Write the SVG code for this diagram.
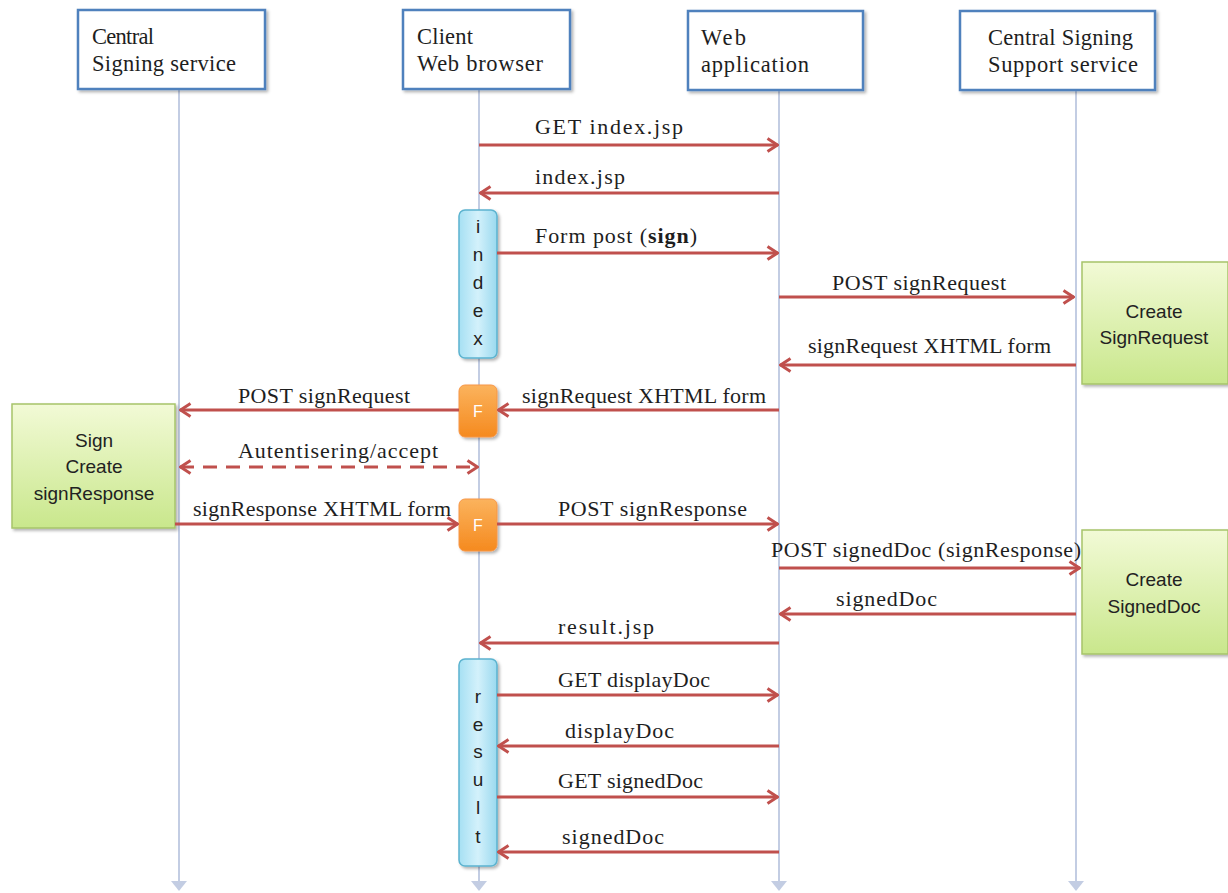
<svg xmlns="http://www.w3.org/2000/svg" width="1228" height="893" viewBox="0 0 1228 893">
<defs>
<style>
.hdr{fill:#fff;stroke:#4f81bd;stroke-width:2.5}
.ht{font-family:"Liberation Serif",serif;font-size:22.5px;fill:#1e1e1e}
.life{stroke:#c3cde3;stroke-width:2;fill:none}
.msg{stroke:#c0504d;stroke-width:3;fill:none}
.dash{stroke-dasharray:14 9}
.lt{font-family:"Liberation Serif",serif;font-size:22px;fill:#1e1e1e}
.st{font-family:"Liberation Sans",sans-serif;font-size:19px;fill:#222;text-anchor:middle}
.act{fill:url(#blue);stroke:#5bb3cf;stroke-width:1.5}
.f{fill:url(#orange);stroke:#f79646;stroke-width:1}
.ft{font-family:"Liberation Sans",sans-serif;font-size:16px;fill:#fff;text-anchor:middle}
.grn{fill:url(#green);stroke:#a6c46a;stroke-width:1.5}
.lifearr{fill:#c3cde3}
</style>
<linearGradient id="blue" x1="0" y1="0" x2="1" y2="0">
<stop offset="0" stop-color="#a6e0f3"/><stop offset="0.5" stop-color="#d3f1fb"/><stop offset="1" stop-color="#9ad9ef"/>
</linearGradient>
<linearGradient id="orange" x1="0" y1="0" x2="0" y2="1">
<stop offset="0" stop-color="#fbb35d"/><stop offset="1" stop-color="#f58a1f"/>
</linearGradient>
<linearGradient id="green" x1="0" y1="0" x2="0" y2="1">
<stop offset="0" stop-color="#f2fad6"/><stop offset="1" stop-color="#c9e78c"/>
</linearGradient>
<marker id="ah" viewBox="0 0 13 16" refX="12" refY="8" markerWidth="13" markerHeight="16" markerUnits="userSpaceOnUse" orient="auto-start-reverse">
<path d="M1.5,1.5 L11.5,8 L1.5,14.5" fill="none" stroke="#c0504d" stroke-width="3"/>
</marker>
<filter id="sh" x="-10%" y="-10%" width="130%" height="130%">
<feDropShadow dx="2" dy="2" stdDeviation="1.5" flood-color="#000" flood-opacity="0.3"/>
</filter>
</defs>
<rect width="1228" height="893" fill="#fff"/>

<g id="lifelines">
<line class="life" x1="179" y1="90" x2="179" y2="882"/>
<line class="life" x1="479" y1="90" x2="479" y2="882"/>
<line class="life" x1="779" y1="90" x2="779" y2="882"/>
<line class="life" x1="1076" y1="90" x2="1076" y2="882"/>
<path class="lifearr" d="M171,881 L187,881 L179,891 Z"/>
<path class="lifearr" d="M471,881 L487,881 L479,891 Z"/>
<path class="lifearr" d="M771,881 L787,881 L779,891 Z"/>
<path class="lifearr" d="M1068,881 L1084,881 L1076,891 Z"/>
</g>

<g id="hdr-central">
<rect class="hdr" x="78" y="10" width="187" height="79" filter="url(#sh)"/>
<text class="ht" x="92" y="44" textLength="62">Central</text>
<text class="ht" x="92" y="71" textLength="144">Signing service</text>
</g>
<g id="hdr-client">
<rect class="hdr" x="403" y="10" width="167" height="79" filter="url(#sh)"/>
<text class="ht" x="417" y="44" textLength="56">Client</text>
<text class="ht" x="417" y="71" textLength="126">Web browser</text>
</g>
<g id="hdr-webapp">
<rect class="hdr" x="688" y="11" width="175" height="79" filter="url(#sh)"/>
<text class="ht" x="701" y="45" textLength="45">Web</text>
<text class="ht" x="701" y="72" textLength="108">application</text>
</g>
<g id="hdr-support">
<rect class="hdr" x="960" y="11" width="195" height="79" filter="url(#sh)"/>
<text class="ht" x="988" y="45" textLength="145">Central Signing</text>
<text class="ht" x="988" y="72" textLength="150">Support service</text>
</g>

<g id="act-index">
<rect class="act" x="459" y="210" width="38" height="148" rx="6" filter="url(#sh)"/>
<text class="st" x="478" y="233">i</text>
<text class="st" x="478" y="261">n</text>
<text class="st" x="478" y="289">d</text>
<text class="st" x="478" y="317">e</text>
<text class="st" x="478" y="345">x</text>
</g>
<g id="act-f1">
<rect class="f" x="459" y="385" width="38" height="52" rx="6" filter="url(#sh)"/>
<text class="ft" x="478" y="417">F</text>
</g>
<g id="act-f2">
<rect class="f" x="459" y="499" width="38" height="52" rx="6" filter="url(#sh)"/>
<text class="ft" x="478" y="531">F</text>
</g>
<g id="act-result">
<rect class="act" x="459" y="659" width="38" height="207" rx="6" filter="url(#sh)"/>
<text class="st" x="478" y="703">r</text>
<text class="st" x="478" y="731">e</text>
<text class="st" x="478" y="758">s</text>
<text class="st" x="478" y="786">u</text>
<text class="st" x="478" y="814">l</text>
<text class="st" x="478" y="843">t</text>
</g>

<g id="proc-signrequest">
<rect class="grn" x="1082" y="262" width="146" height="122" filter="url(#sh)"/>
<text class="st" x="1154" y="318">Create</text>
<text class="st" x="1154" y="344">SignRequest</text>
</g>
<g id="proc-signeddoc">
<rect class="grn" x="1082" y="530" width="146" height="124" filter="url(#sh)"/>
<text class="st" x="1154" y="586">Create</text>
<text class="st" x="1154" y="613">SignedDoc</text>
</g>
<g id="proc-sign">
<rect class="grn" x="12" y="404" width="163" height="124" filter="url(#sh)"/>
<text class="st" x="94" y="447">Sign</text>
<text class="st" x="94" y="473">Create</text>
<text class="st" x="94" y="500">signResponse</text>
</g>

<g id="connectors">
<line class="msg" x1="479" y1="145" x2="778" y2="145" marker-end="url(#ah)"/>
<line class="msg" x1="779" y1="193" x2="480" y2="193" marker-end="url(#ah)"/>
<line class="msg" x1="497" y1="253" x2="778" y2="253" marker-end="url(#ah)"/>
<line class="msg" x1="779" y1="297" x2="1074" y2="297" marker-end="url(#ah)"/>
<line class="msg" x1="1076" y1="365" x2="780" y2="365" marker-end="url(#ah)"/>
<line class="msg" x1="779" y1="410" x2="498" y2="410" marker-end="url(#ah)"/>
<line class="msg" x1="459" y1="410" x2="180" y2="410" marker-end="url(#ah)"/>
<line class="msg dash" x1="180" y1="467" x2="478" y2="467" marker-start="url(#ah)" marker-end="url(#ah)"/>
<line class="msg" x1="175" y1="524" x2="458" y2="524" marker-end="url(#ah)"/>
<line class="msg" x1="497" y1="524" x2="778" y2="524" marker-end="url(#ah)"/>
<line class="msg" x1="779" y1="568" x2="1080" y2="568" marker-end="url(#ah)"/>
<line class="msg" x1="1076" y1="614" x2="780" y2="614" marker-end="url(#ah)"/>
<line class="msg" x1="779" y1="643" x2="480" y2="643" marker-end="url(#ah)"/>
<line class="msg" x1="497" y1="695" x2="778" y2="695" marker-end="url(#ah)"/>
<line class="msg" x1="779" y1="746" x2="498" y2="746" marker-end="url(#ah)"/>
<line class="msg" x1="497" y1="797" x2="778" y2="797" marker-end="url(#ah)"/>
<line class="msg" x1="779" y1="852" x2="498" y2="852" marker-end="url(#ah)"/>
</g>

<g id="labels">
<text class="lt" x="535" y="134" textLength="148">GET index.jsp</text>
<text class="lt" x="535" y="184" textLength="90">index.jsp</text>
<text class="lt" x="535" y="243" textLength="162">Form post (<tspan font-weight="bold">sign</tspan>)</text>
<text class="lt" x="832" y="290" textLength="174">POST signRequest</text>
<text class="lt" x="808" y="353" textLength="243">signRequest XHTML form</text>
<text class="lt" x="522" y="403" textLength="244">signRequest XHTML form</text>
<text class="lt" x="238" y="403" textLength="172">POST signRequest</text>
<text class="lt" x="238" y="458" textLength="200">Autentisering/accept</text>
<text class="lt" x="193" y="516" textLength="258">signResponse XHTML form</text>
<text class="lt" x="558" y="516" textLength="189">POST signResponse</text>
<text class="lt" x="771" y="557" textLength="310">POST signedDoc (signResponse)</text>
<text class="lt" x="836" y="606" textLength="101">signedDoc</text>
<text class="lt" x="558" y="634" textLength="96">result.jsp</text>
<text class="lt" x="558" y="687" textLength="152">GET displayDoc</text>
<text class="lt" x="565" y="738" textLength="109">displayDoc</text>
<text class="lt" x="558" y="788" textLength="145">GET signedDoc</text>
<text class="lt" x="562" y="844" textLength="102">signedDoc</text>
</g>
</svg>
